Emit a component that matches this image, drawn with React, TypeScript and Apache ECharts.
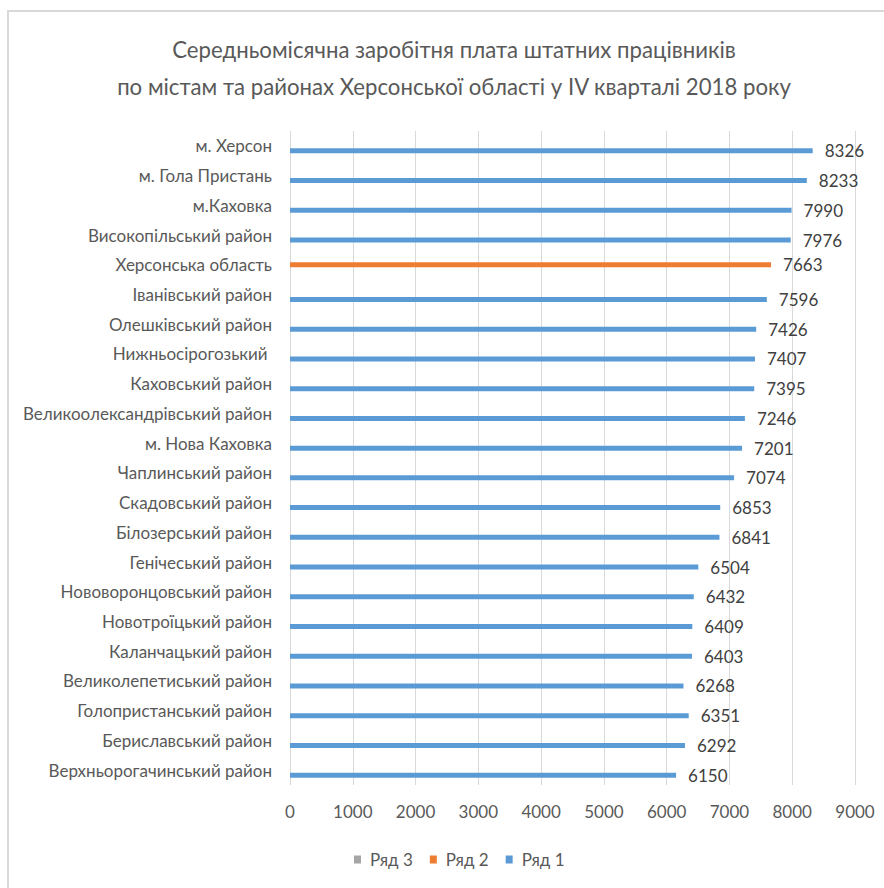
import React, { useEffect, useRef } from "react";
import * as echarts from "echarts";

const categories = [
  "м. Херсон",
  "м. Гола Пристань",
  "м.Каховка",
  "Високопільський район",
  "Херсонська область",
  "Іванівський район",
  "Олешківський район",
  "Нижньосірогозький ",
  "Каховський район",
  "Великоолександрівський район",
  "м. Нова Каховка",
  "Чаплинський район",
  "Скадовський район",
  "Білозерський район",
  "Генічеський район",
  "Нововоронцовський район",
  "Новотроїцький район",
  "Каланчацький район",
  "Великолепетиський район",
  "Голопристанський район",
  "Бериславський район",
  "Верхньорогачинський район",
];

const series1 = [
  8326, 8233, 7990, 7976, null, 7596, 7426, 7407, 7395, 7246, 7201, 7074,
  6853, 6841, 6504, 6432, 6409, 6403, 6268, 6351, 6292, 6150,
];
const series2 = [
  null, null, null, null, 7663, null, null, null, null, null, null, null,
  null, null, null, null, null, null, null, null, null, null,
];
const series3 = categories.map(() => null);

const titleLines = [
  "Середньомісячна заробітня плата штатних працівників",
  "по містам та районах Херсонської області у IV кварталі 2018 року",
];

const FONT = "Lato, 'Open Sans', sans-serif";

export default function App() {
  const ref = useRef<HTMLDivElement>(null);
  useEffect(() => {
    if (!ref.current) return;
    const chart = echarts.init(ref.current, null, { renderer: "svg" });
    const label = {
      show: true,
      position: "right",
      distance: 12,
      color: "#404040",
      fontFamily: FONT,
      fontSize: 17,
    };
    chart.setOption({
      animation: false,
      backgroundColor: "#ffffff",
      title: {
        text: titleLines.join("\n"),
        left: 449,
        textAlign: "center",
        top: 26,
        textStyle: {
          color: "#595959",
          fontFamily: FONT,
          fontWeight: "normal",
          fontSize: 22.2,
          lineHeight: 37,
        },
      },
      graphic: [
        {
          type: "rect",
          shape: { x: 8, y: 11, width: 900, height: 900 },
          style: { fill: "none", stroke: "#D9D9D9", lineWidth: 2 },
          silent: true,
        },
      ],
      legend: {
        bottom: 15,
        left: 349,
        itemWidth: 7,
        itemHeight: 8,
        itemGap: 17,
        icon: "rect",
        data: ["Ряд 3", "Ряд 2", "Ряд 1"],
        textStyle: {
          color: "#595959",
          fontFamily: FONT,
          fontSize: 17,
          padding: [0, 0, 0, 4],
        },
      },
      grid: {
        left: 290,
        right: 29,
        top: 131,
        bottom: 103,
        containLabel: false,
        outerBoundsMode: "none",
      },
      xAxis: {
        type: "value",
        min: 0,
        max: 9000,
        interval: 1000,
        axisLine: { show: false },
        axisTick: { show: false },
        splitLine: { show: true, lineStyle: { color: "#D9D9D9", width: 1 } },
        axisLabel: {
          color: "#595959",
          fontFamily: FONT,
          fontSize: 17,
          margin: 18,
          formatter: (v: number) => String(v),
        },
      },
      yAxis: {
        type: "category",
        data: categories,
        inverse: true,
        axisLine: { show: false },
        axisTick: { show: false },
        axisLabel: { color: "#595959", fontFamily: FONT, fontSize: 17, margin: 18 },
      },
      series: [
        {
          name: "Ряд 3",
          type: "bar",
          data: series3,
          barWidth: 5,
          barGap: "0%",
          itemStyle: { color: "#A5A5A5" },
          label,
        },
        {
          name: "Ряд 2",
          type: "bar",
          data: series2,
          barWidth: 5,
          barGap: "0%",
          itemStyle: { color: "#ED7D31" },
          label,
        },
        {
          name: "Ряд 1",
          type: "bar",
          data: series1,
          barWidth: 5,
          barGap: "0%",
          itemStyle: { color: "#5B9BD5" },
          label,
        },
      ],
    });
    return () => chart.dispose();
  }, []);
  return (
    <div
      ref={ref}
      style={{ position: "absolute", left: 0, top: 0, width: 884, height: 888 }}
    />
  );
}
